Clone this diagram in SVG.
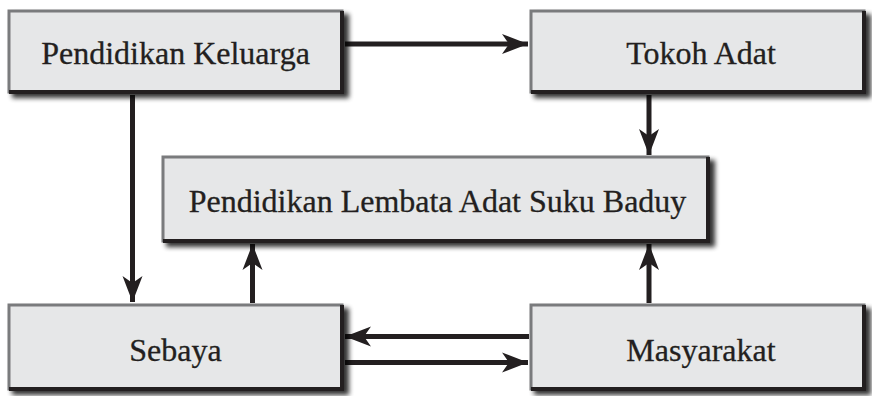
<svg xmlns="http://www.w3.org/2000/svg" width="872" height="396" viewBox="0 0 872 396">
  <defs>
    <filter id="sh" x="-10%" y="-20%" width="130%" height="150%">
      <feGaussianBlur stdDeviation="2.5"/>
    </filter>
    <marker id="ah" markerUnits="userSpaceOnUse" markerWidth="30" markerHeight="24" viewBox="-28 -12 30 24" refX="0" refY="0" orient="auto">
      <path d="M0,0 L-26,-10 L-19,0 L-26,10 Z" fill="#231f20"/>
    </marker>
    <style>
      .shadow { fill: #000; opacity: 0.8; filter: url(#sh); }
      .box { fill: #e6e7e8; stroke: #7a7b7d; stroke-width: 3; }
      .edge { fill: none; stroke: #231f20; stroke-width: 4; }
      .lbl { font-family: "Liberation Serif", "DejaVu Serif", serif; font-size: 32px; fill: #231f20; text-anchor: middle; stroke: #231f20; stroke-width: 0.3; }
      .conn { stroke: #231f20; stroke-width: 5; fill: none; marker-end: url(#ah); }
    </style>
  </defs>

  <g id="connectors">
    <line class="conn" x1="345" y1="44" x2="528" y2="44"/>
    <line class="conn" x1="132.5" y1="95" x2="132.5" y2="302"/>
    <line class="conn" x1="649" y1="95" x2="649" y2="155"/>
    <line class="conn" x1="252.5" y1="303" x2="252.5" y2="244"/>
    <line class="conn" x1="649" y1="303" x2="649" y2="244"/>
    <line class="conn" x1="529" y1="336.5" x2="345" y2="336.5"/>
    <line class="conn" x1="345" y1="362.5" x2="528" y2="362.5"/>
  </g>

  <g id="node-keluarga">
    <rect class="shadow" x="12" y="14" width="337" height="84"/>
    <rect class="box" x="9" y="11" width="333" height="81"/>
    <path class="edge" d="M9,92 H342 V11"/>
    <text class="lbl" x="175.5" y="64">Pendidikan Keluarga</text>
  </g>

  <g id="node-tokoh">
    <rect class="shadow" x="534" y="14" width="337" height="84"/>
    <rect class="box" x="531" y="11" width="333" height="81"/>
    <path class="edge" d="M531,92 H864 V11"/>
    <text class="lbl" x="701" y="64">Tokoh Adat</text>
  </g>

  <g id="node-lembata">
    <rect class="shadow" x="166" y="160" width="549" height="87"/>
    <rect class="box" x="163" y="157" width="545" height="84"/>
    <path class="edge" d="M163,241 H708 V157"/>
    <text class="lbl" x="437.5" y="212">Pendidikan Lembata Adat Suku Baduy</text>
  </g>

  <g id="node-sebaya">
    <rect class="shadow" x="12" y="308" width="337" height="87"/>
    <rect class="box" x="9" y="305" width="333" height="84"/>
    <path class="edge" d="M9,389 H342 V305"/>
    <text class="lbl" x="175.5" y="361">Sebaya</text>
  </g>

  <g id="node-masyarakat">
    <rect class="shadow" x="534" y="308" width="337" height="87"/>
    <rect class="box" x="531" y="305" width="333" height="84"/>
    <path class="edge" d="M531,389 H864 V305"/>
    <text class="lbl" x="701" y="361">Masyarakat</text>
  </g>
</svg>
